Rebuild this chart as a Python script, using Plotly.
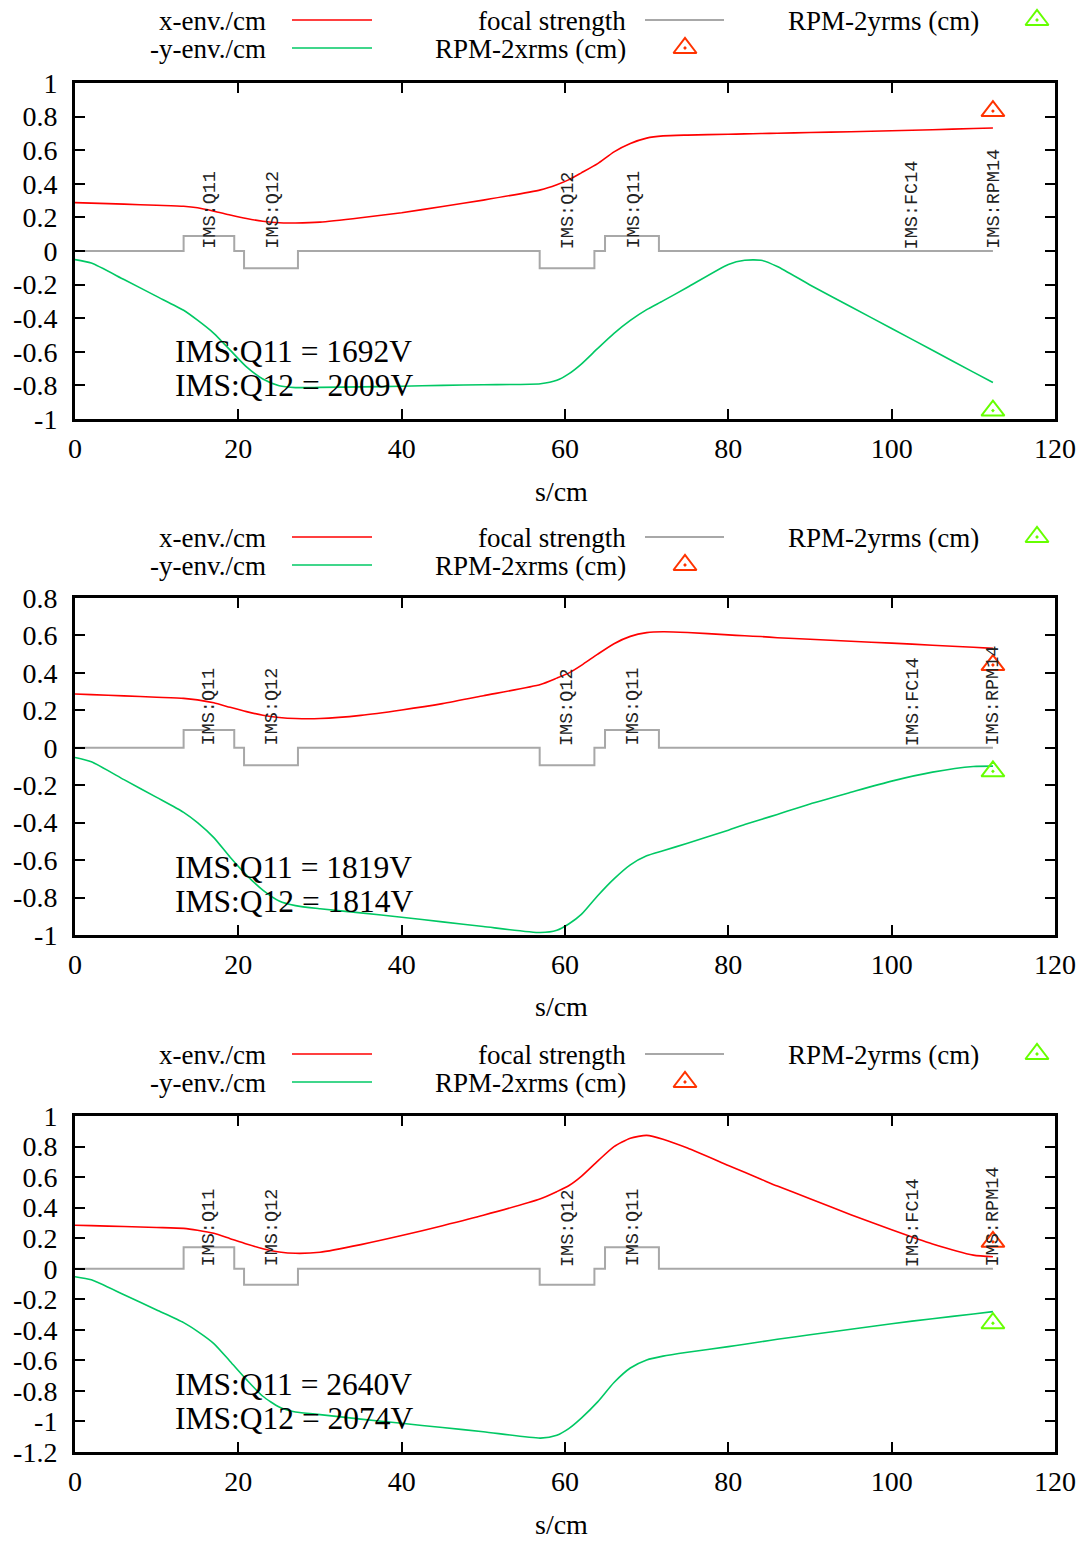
import plotly.graph_objects as go

# ---------------- data ----------------
s_cm = [0, 2, 6, 10, 13.3, 15, 17, 19, 21, 23, 25, 27, 30, 35, 40, 45, 50, 57, 59, 60.5,
        62, 64, 66, 68, 70, 72, 75, 80, 82, 84, 86, 90, 95, 100, 105, 110, 112.4]

x_env_1 = [0.288, 0.285, 0.279, 0.272, 0.266, 0.257, 0.237, 0.214, 0.193, 0.177, 0.168, 0.167,
           0.172, 0.198, 0.228, 0.265, 0.303, 0.364, 0.395, 0.425, 0.465, 0.52, 0.59, 0.64,
           0.672, 0.685, 0.69, 0.695, 0.697, 0.699, 0.701, 0.705, 0.71, 0.716, 0.722, 0.729, 0.732]
y_env_1 = [-0.051, -0.072, -0.17, -0.27, -0.353, -0.412, -0.49, -0.59, -0.69, -0.762, -0.802,
           -0.813, -0.812, -0.809, -0.805, -0.8, -0.796, -0.79, -0.77, -0.73, -0.673, -0.58,
           -0.49, -0.413, -0.349, -0.297, -0.216, -0.08, -0.055, -0.055, -0.092, -0.202, -0.332,
           -0.461, -0.591, -0.721, -0.783]

x_env_2 = [0.287, 0.284, 0.277, 0.27, 0.264, 0.256, 0.24, 0.216, 0.193, 0.174, 0.162, 0.156,
           0.156, 0.173, 0.202, 0.236, 0.278, 0.338, 0.372, 0.40, 0.44, 0.50, 0.556, 0.595,
           0.615, 0.62, 0.616, 0.603, 0.598, 0.594, 0.588, 0.58, 0.569, 0.559, 0.548, 0.537, 0.531]
y_env_2 = [-0.052, -0.075, -0.17, -0.265, -0.345, -0.40, -0.48, -0.585, -0.68, -0.76, -0.818,
           -0.843, -0.86, -0.882, -0.905, -0.93, -0.955, -0.987, -0.975, -0.94, -0.89, -0.79,
           -0.70, -0.625, -0.577, -0.55, -0.51, -0.44, -0.41, -0.383, -0.356, -0.30, -0.238,
           -0.178, -0.13, -0.10, -0.098]

x_env_3 = [0.285, 0.282, 0.276, 0.27, 0.264, 0.252, 0.232, 0.197, 0.162, 0.131, 0.11, 0.101,
           0.108, 0.158, 0.217, 0.282, 0.35, 0.458, 0.505, 0.545, 0.605, 0.705, 0.80, 0.855,
           0.873, 0.848, 0.79, 0.676, 0.631, 0.586, 0.541, 0.459, 0.354, 0.255, 0.162, 0.089, 0.078]
y_env_3 = [-0.052, -0.072, -0.17, -0.27, -0.353, -0.41, -0.49, -0.607, -0.726, -0.835, -0.905,
           -0.938, -0.955, -0.985, -1.012, -1.04, -1.067, -1.109, -1.09, -1.045, -0.978, -0.872,
           -0.745, -0.65, -0.597, -0.572, -0.547, -0.51, -0.495, -0.478, -0.462, -0.432, -0.396,
           -0.36, -0.327, -0.296, -0.281]

# focal strength (step function, value holds until next boundary)
fs_s = [0, 13.3, 19.5, 20.7, 27.3, 56.9, 63.6, 64.9, 71.5, 112.4]
fs_1 = [0, 0.09, 0, -0.103, 0, -0.103, 0, 0.09, 0, 0]
fs_2 = [0, 0.095, 0, -0.093, 0, -0.093, 0, 0.095, 0, 0]
fs_3 = [0, 0.14, 0, -0.105, 0, -0.105, 0, 0.14, 0, 0]

rpm_s = [112.4]
rpm_xrms = [0.833, 0.442, 0.176]
rpm_yrms = [-0.95, -0.126, -0.357]

q11_volts = ["1692", "1819", "2640"]
q12_volts = ["2009", "1814", "2074"]

elem_names = ["IMS:Q11", "IMS:Q12", "IMS:Q12", "IMS:Q11", "IMS:FC14", "IMS:RPM14"]
elem_s = [16.5, 24.2, 60.4, 68.4, 102.6, 112.5]

x_tick_vals = [0, 20, 40, 60, 80, 100, 120]
x_tick_text = ["0", "20", "40", "60", "80", "100", "120"]

y_ranges = [[-1, 1], [-1, 0.8], [-1.2, 1]]
y_tick_vals = [
    [-1, -0.8, -0.6, -0.4, -0.2, 0, 0.2, 0.4, 0.6, 0.8, 1],
    [-1, -0.8, -0.6, -0.4, -0.2, 0, 0.2, 0.4, 0.6, 0.8],
    [-1.2, -1, -0.8, -0.6, -0.4, -0.2, 0, 0.2, 0.4, 0.6, 0.8, 1],
]
y_tick_text = [
    ["-1", "-0.8", "-0.6", "-0.4", "-0.2", "0", "0.2", "0.4", "0.6", "0.8", "1"],
    ["-1", "-0.8", "-0.6", "-0.4", "-0.2", "0", "0.2", "0.4", "0.6", "0.8"],
    ["-1.2", "-1", "-0.8", "-0.6", "-0.4", "-0.2", "0", "0.2", "0.4", "0.6", "0.8", "1"],
]

legend_names = ["x-env./cm", "-y-env./cm", "focal strength", "RPM-2xrms (cm)", "RPM-2yrms (cm)"]

x_env = [x_env_1, x_env_2, x_env_3]
y_env = [y_env_1, y_env_2, y_env_3]
fs = [fs_1, fs_2, fs_3]

# ---------------- layout geometry (pixels) ----------------
W, H = 1086, 1541
PLOT_L, PLOT_R = 75, 1055
panel_top = [83, 598, 1116]
panel_bot = [419, 935, 1452]
legend_rows = [(21, 49), (538, 566), (1055, 1083)]

RED = "#ff0000"
GREEN = "#00c864"
GRAY = "#a8a8a8"
MRED = "#ff3300"
MGREEN = "#66ff00"
SERIF = "Liberation Serif"
MONO = "Liberation Mono"
MSIZE = 20


def px(x):
    return x / W


def py(y):
    return 1 - y / H


fig = go.Figure()
annotations = []

for i in range(3):
    xa = "x" if i == 0 else f"x{i + 1}"
    ya = "y" if i == 0 else f"y{i + 1}"
    fig.add_trace(go.Scatter(x=s_cm, y=x_env[i], mode="lines", name=legend_names[0],
                             line=dict(color=RED, width=1.6, shape="spline", smoothing=0.6),
                             xaxis=xa, yaxis=ya, showlegend=False))
    fig.add_trace(go.Scatter(x=s_cm, y=y_env[i], mode="lines", name=legend_names[1],
                             line=dict(color=GREEN, width=1.6, shape="spline", smoothing=0.6),
                             xaxis=xa, yaxis=ya, showlegend=False))
    fig.add_trace(go.Scatter(x=fs_s, y=fs[i], mode="lines", name=legend_names[2],
                             line=dict(color=GRAY, width=2, shape="hv"), xaxis=xa, yaxis=ya,
                             showlegend=False))
    fig.add_trace(go.Scatter(x=rpm_s, y=[rpm_xrms[i]], mode="markers", name=legend_names[3],
                             marker=dict(symbol="triangle-up-open-dot", size=MSIZE, color=MRED,
                                         line=dict(color=MRED, width=2)),
                             xaxis=xa, yaxis=ya, showlegend=False, cliponaxis=False))
    fig.add_trace(go.Scatter(x=rpm_s, y=[rpm_yrms[i]], mode="markers", name=legend_names[4],
                             marker=dict(symbol="triangle-up-open-dot", size=MSIZE, color=MGREEN,
                                         line=dict(color=MGREEN, width=2)),
                             xaxis=xa, yaxis=ya, showlegend=False, cliponaxis=False))

    dom_x = [px(PLOT_L), px(PLOT_R)]
    dom_y = [py(panel_bot[i]), py(panel_top[i])]
    xkey = "xaxis" if i == 0 else f"xaxis{i + 1}"
    ykey = "yaxis" if i == 0 else f"yaxis{i + 1}"
    fig.update_layout({
        xkey: dict(domain=dom_x, anchor=ya, range=[0, 120], tickvals=x_tick_vals,
                   ticktext=x_tick_text, ticks="inside", ticklen=10, tickwidth=1.5,
                   tickcolor="black", showline=True, linewidth=3, linecolor="black",
                   mirror="ticks", showgrid=False, zeroline=False, automargin=False,
                   ticklabelstandoff=2,
                   tickfont=dict(family=SERIF, size=28, color="black")),
        ykey: dict(domain=dom_y, anchor=xa, range=y_ranges[i], tickvals=y_tick_vals[i],
                   ticktext=y_tick_text[i], ticks="inside", ticklen=10, tickwidth=1.5,
                   tickcolor="black", showline=True, linewidth=3, linecolor="black",
                   mirror="ticks", showgrid=False, zeroline=False, automargin=False,
                   ticklabelstandoff=9,
                   tickfont=dict(family=SERIF, size=28, color="black")),
    })

    # element labels (rotated)
    for name, s in zip(elem_names, elem_s):
        annotations.append(dict(x=s, y=0, xref=xa, yref=ya, text=name, textangle=-90,
                                showarrow=False, xanchor="center", yanchor="bottom",
                                font=dict(family=MONO, size=18.5, color="#222222")))
    # voltage text
    annotations.append(dict(x=0.1, y=0.2, xref=f"{xa} domain", yref=f"{ya} domain",
                            text=f"IMS:Q11 = {q11_volts[i]}V", showarrow=False,
                            xanchor="left", yanchor="middle",
                            font=dict(family=SERIF, size=31.5, color="black")))
    annotations.append(dict(x=0.1, y=0.1, xref=f"{xa} domain", yref=f"{ya} domain",
                            text=f"IMS:Q12 = {q12_volts[i]}V", showarrow=False,
                            xanchor="left", yanchor="middle",
                            font=dict(family=SERIF, size=31.5, color="black")))
    # x-axis title
    annotations.append(dict(x=px((PLOT_L + PLOT_R) / 2 - 4), y=py(panel_bot[i] + 72),
                            xref="paper", yref="paper", text="s/cm", showarrow=False,
                            xanchor="center", yanchor="middle",
                            font=dict(family=SERIF, size=28, color="black")))

    # legend (gnuplot style: text right-aligned, sample on the right)
    r1, r2 = legend_rows[i]
    leg_items = [
        (legend_names[0], 268, r1, "line", RED, 292, 372),
        (legend_names[1], 268, r2, "line", GREEN, 292, 372),
        (legend_names[2], 628, r1, "line", GRAY, 645, 724),
        (legend_names[3], 628, r2, "mark", MRED, 685, None),
        (legend_names[4], 981, r1, "mark", MGREEN, 1037, None),
    ]
    for text, tx, ty, kind, col, sx0, sx1 in leg_items:
        annotations.append(dict(x=px(tx), y=py(ty), xref="paper", yref="paper", text=text,
                                showarrow=False, xanchor="right", yanchor="middle",
                                font=dict(family=SERIF, size=27, color="black")))
        if kind == "line":
            fig.add_trace(go.Scatter(x=[sx0, sx1], y=[ty - 1, ty - 1], mode="lines",
                                     line=dict(color=col, width=2 if col == GRAY else 1.6),
                                     xaxis="x4", yaxis="y4", showlegend=False,
                                     hoverinfo="skip"))
        else:
            fig.add_trace(go.Scatter(x=[sx0], y=[ty - 1], mode="markers",
                                     marker=dict(symbol="triangle-up-open-dot", size=MSIZE,
                                                 color=col, line=dict(color=col, width=2)),
                                     xaxis="x4", yaxis="y4", showlegend=False,
                                     hoverinfo="skip", cliponaxis=False))

# overlay pixel-space axis used only for the legend samples
fig.update_layout(
    xaxis4=dict(domain=[0, 1], range=[0, W], visible=False, anchor="y4", fixedrange=True),
    yaxis4=dict(domain=[0, 1], range=[H, 0], visible=False, anchor="x4", fixedrange=True),
)

fig.update_layout(
    width=W, height=H,
    margin=dict(l=0, r=0, t=0, b=0),
    paper_bgcolor="white",
    plot_bgcolor="rgba(0,0,0,0)",
    showlegend=False,
    annotations=annotations,
)

fig.write_html("out.html")
